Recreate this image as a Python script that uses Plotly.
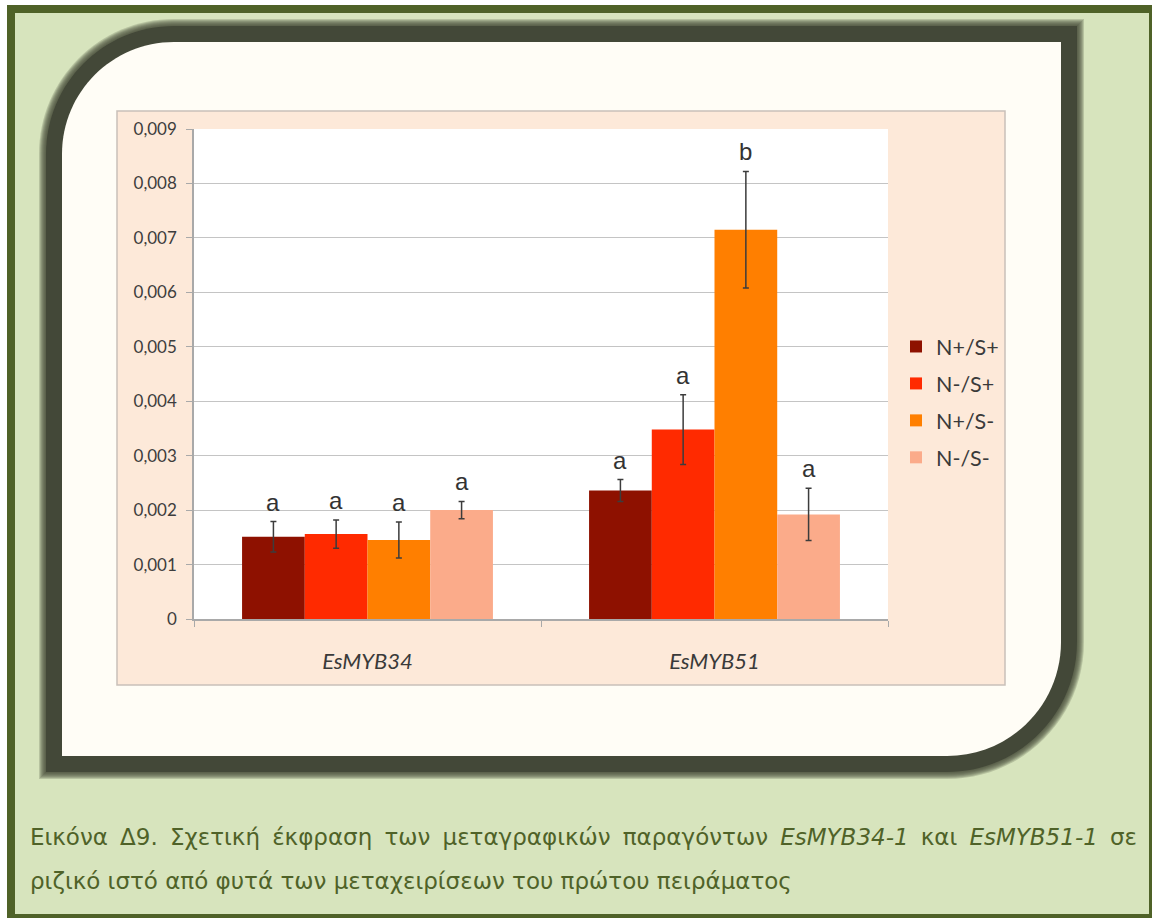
import plotly.graph_objects as go

# ---------------- data ----------------
categories = ["EsMYB34", "EsMYB51"]
category_labels = ["<i>EsMYB34</i>", "<i>EsMYB51</i>"]
series_names = ["N+/S+", "N-/S+", "N+/S-", "N-/S-"]

vals_np_sp = [0.00151, 0.00236]
vals_nm_sp = [0.00156, 0.00348]
vals_np_sm = [0.00145, 0.00715]
vals_nm_sm = [0.00200, 0.00192]

err_np_sp = [0.00028, 0.00020]
err_nm_sp = [0.00026, 0.00064]
err_np_sm = [0.00033, 0.00107]
err_nm_sm = [0.00016, 0.00048]

letters_np_sp = ["a", "a"]
letters_nm_sp = ["a", "a"]
letters_np_sm = ["a", "b"]
letters_nm_sm = ["a", "a"]

ytick_vals = [0, 0.001, 0.002, 0.003, 0.004, 0.005, 0.006, 0.007, 0.008, 0.009]
ytick_text = ["0", "0,001", "0,002", "0,003", "0,004", "0,005", "0,006", "0,007", "0,008", "0,009"]

caption_line1 = ("Εικόνα Δ9. Σχετική έκφραση των μεταγραφικών παραγόντων "
                 "<i>EsMYB34-1</i> και <i>EsMYB51-1</i> σε")
caption_line2 = "ριζικό ιστό από φυτά των μεταχειρίσεων του πρώτου πειράματος"

# ---------------- style ----------------
colors = ["#8e1100", "#ff2a00", "#ff7f00", "#fbab8a"]
values = [vals_np_sp, vals_nm_sp, vals_np_sm, vals_nm_sm]
errors = [err_np_sp, err_nm_sp, err_np_sm, err_nm_sm]
letters = [letters_np_sp, letters_nm_sp, letters_np_sm, letters_nm_sm]

FW, FH = 1152, 918
ML, MR, MT, MB = 194, 264, 129, 299
PW = FW - ML - MR
PH = FH - MT - MB
BARGAP = 0.277
CAPTION_LEFT, CAPTION_RIGHT = 28, 1137


def X(p):
    return (p - ML) / PW


def Y(p):
    return (FH - MB - p) / PH


def rect(x0, y0, x1, y1, fill, line=None, lw=0, opacity=1):
    return dict(type="rect", xref="paper", yref="paper", layer="below",
                x0=X(x0), x1=X(x1), y0=Y(y1), y1=Y(y0), fillcolor=fill,
                opacity=opacity,
                line=dict(color=line or "rgba(0,0,0,0)", width=lw))


def rr_path(x0, y0, x1, y1, rtl, rbr):
    k = 0.5523
    f = lambda a, b: f"{X(a):.5f},{Y(b):.5f}"
    return ("M" + f(x0 + rtl, y0) + " L" + f(x1, y0) + " L" + f(x1, y1 - rbr) +
            " C" + f(x1, y1 - rbr + k * rbr) + " " + f(x1 - rbr + k * rbr, y1) + " " + f(x1 - rbr, y1) +
            " L" + f(x0, y1) + " L" + f(x0, y0 + rtl) +
            " C" + f(x0, y0 + rtl - k * rtl) + " " + f(x0 + rtl - k * rtl, y0) + " " + f(x0 + rtl, y0) + " Z")


def rr(x0, y0, x1, y1, rtl, rbr, fill, opacity=1):
    return dict(type="path", xref="paper", yref="paper", layer="below",
                path=rr_path(x0, y0, x1, y1, rtl, rbr), fillcolor=fill,
                opacity=opacity, line=dict(width=0))


shapes = []
# outer frame
shapes.append(rect(7, 5, 1300, 1100, "#4f6228"))
shapes.append(rect(15, 13, 1149, 914, "#d7e4bd"))
# panel shadow (soft edge built from stacked translucent layers)
px0, py0, px1, py1, rtl, rbr = 62, 42, 1061, 756, 112, 114
for e in range(23, 16, -1):
    shapes.append(rr(px0 - e, py0 - e, px1 + e, py1 + e, rtl + e, rbr + e, "#434838", 0.22))
shapes.append(rr(px0 - 16, py0 - 16, px1 + 16, py1 + 16, rtl + 16, rbr + 16, "#434838"))
# panel
shapes.append(rr(px0, py0, px1, py1, rtl, rbr, "#fffdf6"))
# chart area
shapes.append(rect(117, 111, 1005, 685, "#fde9d9", "#c9c0b9", 1.5))
# plot area
shapes.append(rect(194, 129, 888, 619, "#ffffff"))

fig = go.Figure()
for name, v, e, c in zip(series_names, values, errors, colors):
    fig.add_trace(go.Bar(
        x=categories, y=v, name=name, marker=dict(color=c, line=dict(width=0)),
        error_y=dict(type="data", array=e, visible=True, color="#3c3c3c", thickness=1.5, width=3),
        legendgroup=name,
    ))

annotations = []
bw = (1 - BARGAP) / len(series_names)
for j, (v, e, lt) in enumerate(zip(values, errors, letters)):
    for i in range(len(categories)):
        annotations.append(dict(
            x=i + (j - (len(series_names) - 1) / 2) * bw, y=v[i] + e[i], xref="x", yref="y",
            text=lt[i], showarrow=False, xanchor="center", yanchor="bottom", yshift=4,
            font=dict(family="Liberation Sans, Arial", size=24, color="#333333")))

cap_font = dict(family="DejaVu Sans, Liberation Sans, Arial", size=23, color="#4f6228")
annotations.append(dict(x=X(CAPTION_LEFT), y=Y(837), xref="paper", yref="paper", text=caption_line1,
                        showarrow=False, xanchor="left", yanchor="middle", align="left",
                        font=cap_font))
annotations.append(dict(x=X(CAPTION_LEFT), y=Y(881), xref="paper", yref="paper", text=caption_line2,
                        showarrow=False, xanchor="left", yanchor="middle", align="left",
                        font=cap_font))

fig.update_layout(
    width=FW, height=FH, margin=dict(l=ML, r=MR, t=MT, b=MB, pad=0),
    paper_bgcolor="#ffffff", plot_bgcolor="rgba(0,0,0,0)",
    barmode="group", bargap=BARGAP, bargroupgap=0,
    shapes=shapes, annotations=annotations,
    font=dict(family="Lato, Open Sans, sans-serif", color="#3a3a3a"),
    legend=dict(x=X(896), y=Y(326), xanchor="left", yanchor="top",
                bgcolor="rgba(0,0,0,0)", font=dict(size=21.5, color="#3a3a3a"),
                traceorder="grouped", tracegroupgap=6, itemclick=False),
    showlegend=True,
)
fig.update_yaxes(range=[0, 0.0090001], tickvals=ytick_vals, ticktext=ytick_text,
                 showgrid=True, gridcolor="#c4c4c4", gridwidth=1.3,
                 showline=True, linecolor="#a9a9a9", linewidth=1.5,
                 ticks="outside", ticklen=6, tickcolor="#a9a9a9", tickwidth=1.3,
                 zeroline=False, tickfont=dict(size=17, color="#3d3d3d"),
                 ticklabelstandoff=6)
fig.update_xaxes(tickvals=categories, ticktext=category_labels, tickson="boundaries",
                 showgrid=False, showline=True, linecolor="#a9a9a9", linewidth=1.5,
                 ticks="outside", ticklen=6, tickcolor="#a9a9a9", tickwidth=1.3,
                 tickfont=dict(size=22, color="#3a3a3a"), ticklabelstandoff=22)

# justify the first caption line (the original caption is set justified)
justify_js = """
document.body.style.margin='0';
document.body.style.overflow='hidden';
(function(){
  var target = %d;
  var texts = document.querySelectorAll('text.annotation-text');
  texts.forEach(function(t){
    var s = t.textContent || '';
    if (s.indexOf('\\u0395\\u03b9\\u03ba\\u03cc\\u03bd\\u03b1') === 0) {
      var w = t.getComputedTextLength();
      var n = (s.match(/ /g) || []).length;
      if (n > 0 && w < target) {
        t.style.wordSpacing = ((target - w) / n) + 'px';
      }
    }
  });
})();
""" % (CAPTION_RIGHT - CAPTION_LEFT - 2)

fig.write_html("out.html", config={"displayModeBar": False}, post_script=justify_js)
